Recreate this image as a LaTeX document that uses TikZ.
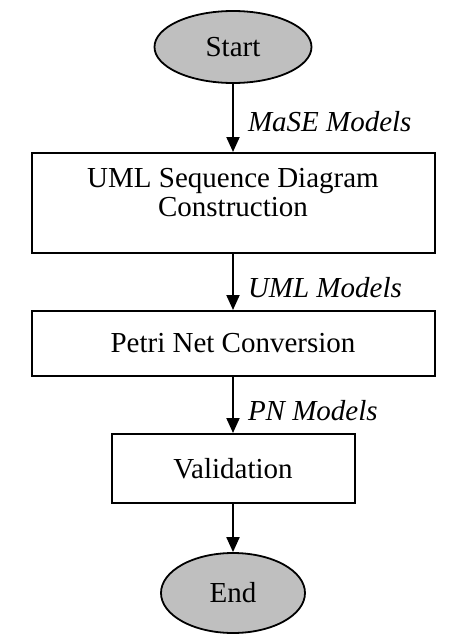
\documentclass[tikz,border=0pt]{standalone}
\usepackage{fontspec}
\setmainfont{Liberation Serif}
\usepackage{tikz}
\usetikzlibrary{arrows.meta,positioning,shapes.geometric}

\begin{document}
\begin{tikzpicture}[x=0.5pt,y=-0.5pt,
  terminal/.style={draw=black,ellipse,fill=black!25,line width=0.9pt,
                   inner sep=0pt,font=\fontsize{14.5}{14.5}\selectfont},
  process/.style={draw=black,rectangle,align=center,line width=1pt,
                  inner sep=0pt,font=\fontsize{14.5}{14.5}\selectfont},
  arr/.style={-{Triangle[width=6.5pt,length=7.5pt]},line width=1pt},
  flowlabel/.style={anchor=west,font=\fontsize{14.5}{15}\itshape,
                    inner sep=0pt,xshift=7pt}
]
\useasboundingbox (0,0) rectangle (454,637);
\node[terminal,minimum width=78.5pt,minimum height=36pt] (start) at (233,47) {Start};
\node[process,minimum width=201.5pt,minimum height=50pt] (seqdiag) at (233,203)
  {\raisebox{3.5pt}[\height][\depth]{\begin{tabular}{@{}c@{}}UML Sequence Diagram\\Construction\end{tabular}}};
\node[process,minimum width=201.5pt,minimum height=32.5pt] (pnconv) at (233,343.5)
  {Petri Net Conversion};
\node[process,minimum width=121.5pt,minimum height=34.5pt] (valid) at (233,468.5)
  {Validation};
\node[terminal,minimum width=72pt,minimum height=40pt] (end) at (233,593) {End};
\draw[arr] (start)--(seqdiag) node[flowlabel,pos=0.55] (mase) {MaSE Models};
\draw[arr] (seqdiag)--(pnconv) node[flowlabel,pos=0.6] (umlm) {UML Models};
\draw[arr] (pnconv)--(valid) node[flowlabel,pos=0.6] (pnm) {PN Models};
\draw[arr] (valid)--(end);
\end{tikzpicture}
\end{document}
